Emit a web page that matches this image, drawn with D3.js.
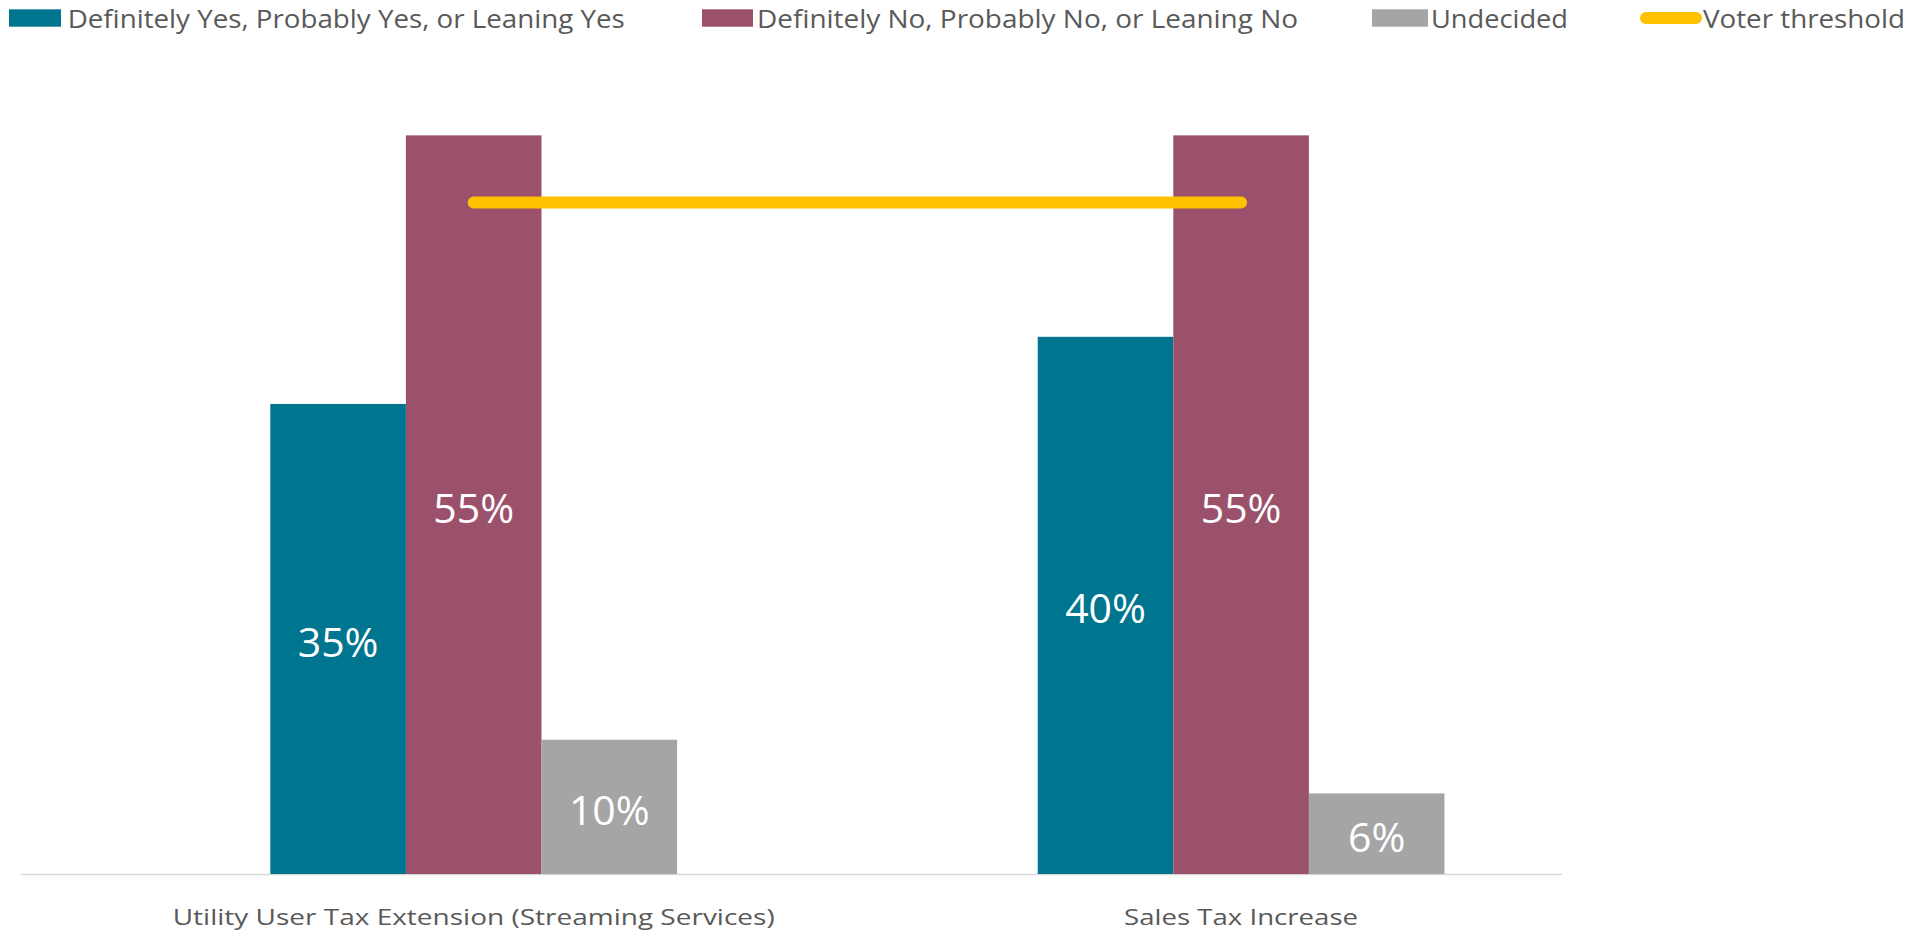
<!DOCTYPE html>
<html>
<head>
<meta charset="utf-8">
<script src="https://cdn.jsdelivr.net/npm/d3@7"></script>
<style>
  html, body { margin: 0; padding: 0; background: #fff; }
  svg { display: block; }
</style>
</head>
<body>
<svg id="chart" width="1908" height="933"></svg>
<script>
// Ballot measure support, by measure
const categories = ["Utility User Tax Extension (Streaming Services)", "Sales Tax Increase"];
const seriesNames = ["Definitely Yes, Probably Yes, or Leaning Yes", "Definitely No, Probably No, or Leaning No", "Undecided"];
const yesValues = [35, 40];
const noValues = [55, 55];
const undecidedValues = [10, 6];
const thresholdValues = [50, 50];
const thresholdName = "Voter threshold";
const seriesColors = ["#00758f", "#9b506c", "#a5a5a5"];
const thresholdColor = "#ffc000";

const seriesValues = [yesValues, noValues, undecidedValues];

const svg = d3.select("#chart");
const textColor = "#595959";

const baseY = 874;
const y = d3.scaleLinear().domain([0, 60]).range([baseY, baseY - 60 * 13.43]);

const x = d3.scaleBand()
  .domain(categories)
  .range([90, 1624.8])
  .paddingInner(0.47)
  .paddingOuter(0.235);

const xSub = d3.scaleBand()
  .domain(seriesNames)
  .range([0, x.bandwidth()]);

// category axis line
svg.append("line")
  .attr("x1", 21).attr("x2", 1562)
  .attr("y1", baseY + 0.5).attr("y2", baseY + 0.5)
  .attr("stroke", "#d9d9d9").attr("stroke-width", 1.5);

// bars
const rows = [];
categories.forEach((c, i) => {
  seriesNames.forEach((s, j) => {
    rows.push({ cat: c, series: s, value: seriesValues[j][i], color: seriesColors[j] });
  });
});

const g = svg.append("g");
g.selectAll("rect.bar")
  .data(rows)
  .join("rect")
  .attr("class", "bar")
  .attr("x", d => x(d.cat) + xSub(d.series))
  .attr("width", xSub.bandwidth())
  .attr("y", d => y(d.value))
  .attr("height", d => baseY - y(d.value))
  .attr("fill", d => d.color);

// value labels
g.selectAll("text.val")
  .data(rows)
  .join("text")
  .attr("class", "val")
  .attr("x", d => x(d.cat) + xSub(d.series) + xSub.bandwidth() / 2)
  .attr("y", d => (y(d.value) + baseY) / 2 + 18)
  .attr("text-anchor", "middle")
  .attr("fill", "#ffffff")
  .attr("font-family", "'Open Sans', sans-serif")
  .attr("font-size", 41)
  .attr("font-weight", 500)
  .text(d => d.value + "%");

// threshold line across category centres
const line = d3.line()
  .x((d, i) => x(categories[i]) + x.bandwidth() / 2)
  .y(d => y(d));
svg.append("path")
  .datum(thresholdValues)
  .attr("d", line)
  .attr("fill", "none")
  .attr("stroke", thresholdColor)
  .attr("stroke-width", 12)
  .attr("stroke-linecap", "round");

// category labels
const catWidths = [602, 234];
svg.selectAll("text.cat")
  .data(categories)
  .join("text")
  .attr("class", "cat")
  .attr("x", d => x(d) + x.bandwidth() / 2)
  .attr("y", 924.5)
  .attr("text-anchor", "middle")
  .attr("fill", textColor)
  .attr("font-family", "'Open Sans', sans-serif")
  .attr("font-size", 22)
  .attr("textLength", (d, i) => catWidths[i])
  .attr("lengthAdjust", "spacingAndGlyphs")
  .text(d => d);

// legend
const legendItems = [
  { name: seriesNames[0], color: seriesColors[0], type: "rect", sx: 9, sw: 52, tx: 67.7, tw: 557 },
  { name: seriesNames[1], color: seriesColors[1], type: "rect", sx: 702, sw: 51, tx: 757, tw: 541 },
  { name: seriesNames[2], color: seriesColors[2], type: "rect", sx: 1372, sw: 56, tx: 1431, tw: 137 },
  { name: thresholdName, color: thresholdColor, type: "line", sx: 1646, sw: 50, tx: 1703, tw: 202 }
];
const lg = svg.append("g");
legendItems.forEach(it => {
  if (it.type === "rect") {
    lg.append("rect")
      .attr("x", it.sx).attr("y", 9.3)
      .attr("width", it.sw).attr("height", 17.4)
      .attr("fill", it.color);
  } else {
    lg.append("line")
      .attr("x1", it.sx).attr("x2", it.sx + it.sw)
      .attr("y1", 18).attr("y2", 18)
      .attr("stroke", it.color).attr("stroke-width", 12)
      .attr("stroke-linecap", "round");
  }
  lg.append("text")
    .attr("x", it.tx).attr("y", 27.5)
    .attr("fill", textColor)
    .attr("font-family", "'Open Sans', sans-serif")
    .attr("font-size", 26)
    .attr("textLength", it.tw)
    .attr("lengthAdjust", "spacingAndGlyphs")
    .text(it.name);
});
</script>
</body>
</html>
